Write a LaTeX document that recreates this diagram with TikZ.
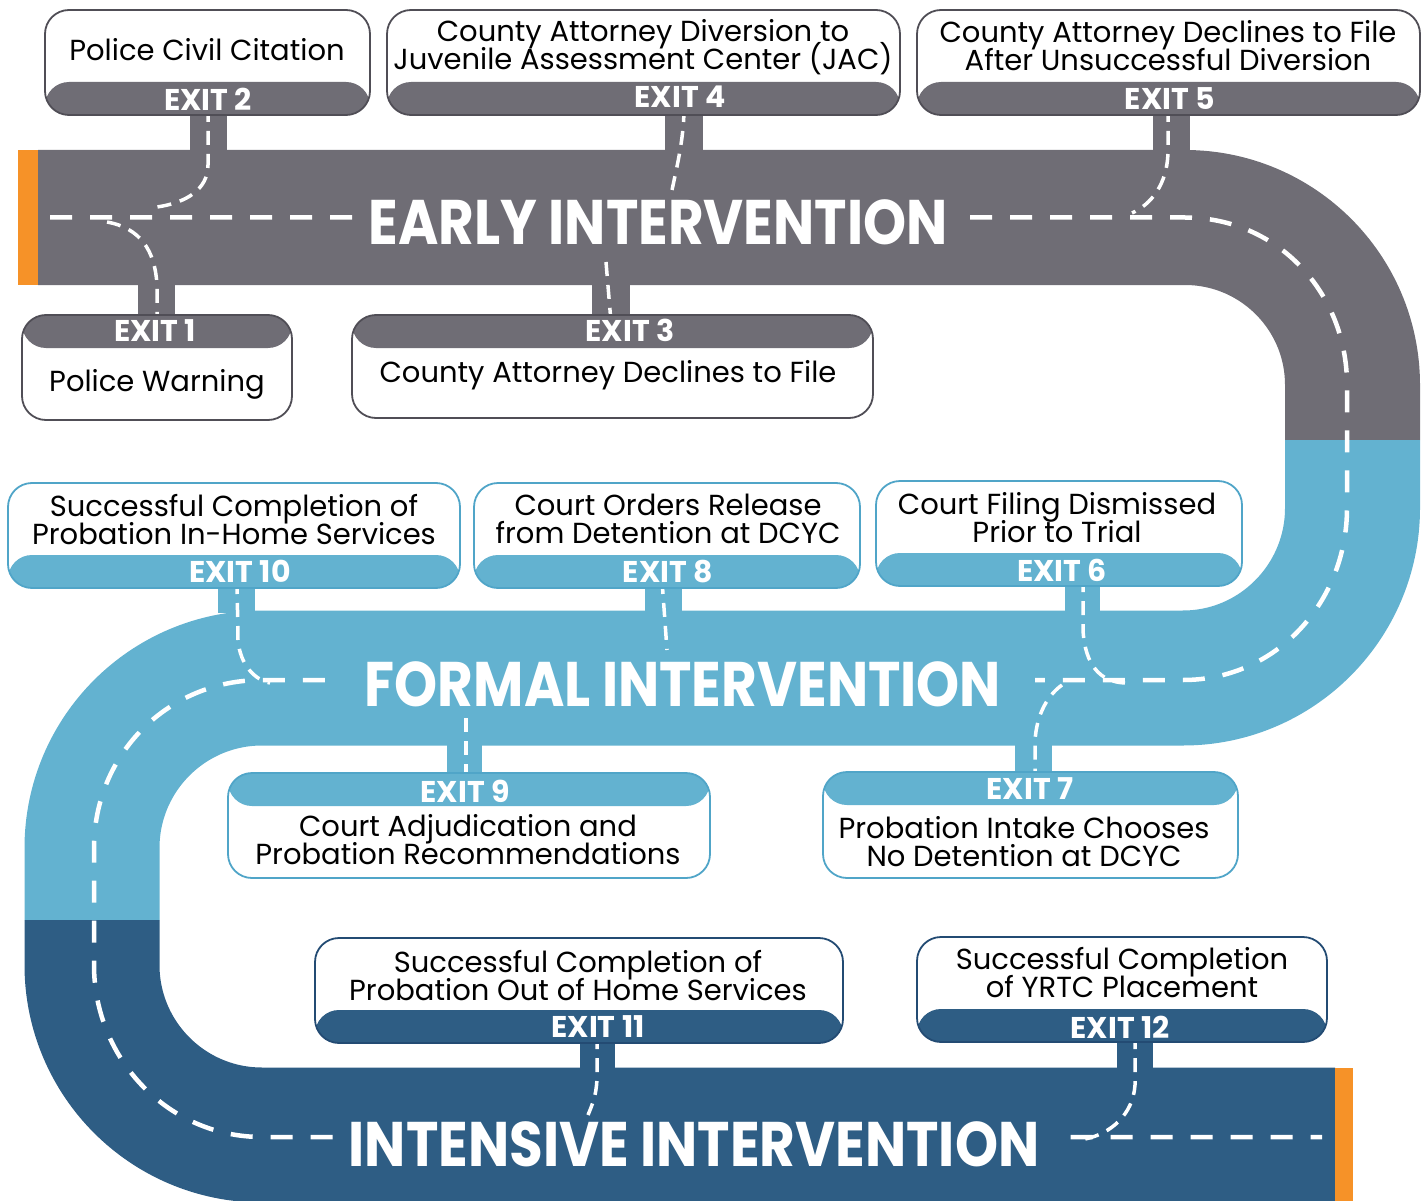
\documentclass[tikz,border=0pt]{standalone}
\usepackage{fontspec}
\setmainfont{Poppins}
\definecolor{roadgray}{RGB}{111,109,117}
\definecolor{roadlight}{RGB}{99,178,208}
\definecolor{roaddark}{RGB}{46,93,132}
\definecolor{roadorange}{RGB}{246,146,40}
\definecolor{edgegray}{RGB}{80,78,86}
\definecolor{edgelight}{RGB}{80,165,200}
\definecolor{edgedark}{RGB}{35,75,115}
\newcommand{\titlecond}[1]{\scalebox{0.87}[1]{#1}}
\newcommand{\tightlines}{\setlength{\lineskiplimit}{-60pt}\setlength{\lineskip}{0pt}}
\tikzset{
  box/.style={draw=#1, line width=1.8pt, rounded corners=24pt, fill=white, inner sep=0pt},
  botstrip/.style={path picture={\fill[#1] (path picture bounding box.south west) rectangle ([yshift=33pt]path picture bounding box.south east);}},
  topstrip/.style={path picture={\fill[#1] (path picture bounding box.north west) rectangle ([yshift=-33pt]path picture bounding box.north east);}},
  boxtext/.style={font={\fontsize{29}{28}\selectfont\tightlines}, align=center, inner sep=0pt, text=black},
  exitlbl/.style={font=\fontsize{30}{30}\selectfont\bfseries, text=white, inner sep=0pt},
  roadtitle/.style={font=\fontsize{63}{63}\selectfont\bfseries, text=white, inner ysep=1pt},
  dashline/.style={white, line width=4.5pt, dash pattern=on 22pt off 18pt},
  exitdash/.style={white, line width=3.5pt, dash pattern=on 14pt off 9pt},
}
\begin{document}
\begin{tikzpicture}[x=1pt, y=-1pt]
\useasboundingbox (0,0) rectangle (1424,1201);
% road
\begin{scope}
\clip (0,0) rectangle (1424,1201);
\draw[roadgray, line width=135pt] (38,217.5) -- (1185,217.5) .. controls (1277.5,217.5) and (1352.5,292.5) .. (1352.5,385) -- (1352.5,440);
\draw[roadlight, line width=135pt] (1352.5,440) -- (1352.5,508) .. controls (1352.5,601.6) and (1276.6,678) .. (1183,678) -- (262,678) .. controls (168.1,678) and (92,754.1) .. (92,848) -- (92,920);
\draw[roaddark, line width=135pt] (92,920) -- (92,965) .. controls (92,1058.9) and (168.1,1135) .. (262,1135) -- (1335,1135);
\fill[roadorange] (18,150) rectangle (38,285);
\fill[roadorange] (1335,1067.5) rectangle (1353,1201);
\end{scope}
% stubs
\fill[roadgray] (190,112) rectangle (227,152);
\fill[roadgray] (665,112) rectangle (703,152);
\fill[roadgray] (1153,112) rectangle (1190,152);
\fill[roadgray] (138,283) rectangle (175,318);
\fill[roadgray] (592,283) rectangle (630,318);
\fill[roadlight] (218,585) rectangle (255,613);
\fill[roadlight] (645,585) rectangle (682,613);
\fill[roadlight] (1065,583) rectangle (1100,613);
\fill[roadlight] (447,743) rectangle (482,776);
\fill[roadlight] (1015,743) rectangle (1052,775);
\fill[roaddark] (580,1040) rectangle (615,1070);
\fill[roaddark] (1117,1039) rectangle (1153,1070);
% main dashed centre line
\draw[dashline] (50,217.5) -- (1185,217.5) .. controls (1277.5,217.5) and (1347,292.5) .. (1347,385) -- (1347,508) .. controls (1347,601.6) and (1276.6,680) .. (1183,680) -- (262,680) .. controls (168.1,680) and (94,754.1) .. (94,848) -- (94,965) .. controls (94,1058.9) and (168.1,1137) .. (262,1137) -- (1322,1137);
% exit dashes
\draw[exitdash] (208,108) -- (208,165) .. controls (208,190) and (185,203) .. (157,207);
\draw[exitdash] (684,108) .. controls (684,140) and (676,170) .. (671,195);
\draw[exitdash] (1168,108) -- (1168,150) .. controls (1168,185) and (1150,205) .. (1132,213);
\draw[exitdash] (107,222) .. controls (140,228) and (155,250) .. (157,285) -- (157,322);
\draw[exitdash] (606,262) -- (611,322);
\draw[exitdash] (237,580) -- (238,640) .. controls (240,665) and (255,680) .. (270,683);
\draw[exitdash] (662,580) -- (667,650);
\draw[exitdash] (1083,578) -- (1083,630) .. controls (1085,665) and (1100,682) .. (1125,683);
\draw[exitdash] (466,718) -- (466,780);
\draw[exitdash] (1062,685) .. controls (1045,697) and (1035,720) .. (1035,745) -- (1035,780);
\draw[exitdash] (597,1035) -- (597,1075) .. controls (597,1095) and (592,1105) .. (588,1115);
\draw[exitdash] (1135,1035) -- (1135,1085) .. controls (1133,1115) and (1110,1134) .. (1085,1139);
% boxes
\node[box=edgegray, botstrip=roadgray, minimum width=325pt, minimum height=105pt] (b2) at (207.5,62.5) {};
\node[box=edgegray, botstrip=roadgray, minimum width=513pt, minimum height=105pt] (b4) at (643.5,62.5) {};
\node[box=edgegray, botstrip=roadgray, minimum width=503pt, minimum height=105pt] (b5) at (1168.5,62.5) {};
\node[box=edgegray, topstrip=roadgray, minimum width=270pt, minimum height=105pt] (b1) at (157,367.5) {};
\node[box=edgegray, topstrip=roadgray, minimum width=521pt, minimum height=103pt] (b3) at (612.5,366.5) {};
\node[box=edgelight, botstrip=roadlight, minimum width=452pt, minimum height=105pt] (b10) at (234,535.5) {};
\node[box=edgelight, botstrip=roadlight, minimum width=386pt, minimum height=105pt] (b8) at (667,535.5) {};
\node[box=edgelight, botstrip=roadlight, minimum width=366pt, minimum height=105pt] (b6) at (1059,533.5) {};
\node[box=edgelight, topstrip=roadlight, minimum width=482pt, minimum height=105pt] (b9) at (469,825.5) {};
\node[box=edgelight, topstrip=roadlight, minimum width=415pt, minimum height=106pt] (b7) at (1030.5,825) {};
\node[box=edgedark, botstrip=roaddark, minimum width=528pt, minimum height=105pt] (b11) at (579,990.5) {};
\node[box=edgedark, botstrip=roaddark, minimum width=410pt, minimum height=105pt] (b12) at (1122,989.5) {};
% box texts
\node[boxtext] (t2) at (207,50) {Police Civil Citation};
\node[boxtext] (t4) at (643,47) {County Attorney Diversion to\\Juvenile Assessment Center (JAC)};
\node[boxtext] (t5) at (1168,46) {County Attorney Declines to File\\After Unsuccessful Diversion};
\node[boxtext] (t1) at (157,384) {Police Warning};
\node[boxtext] (t3) at (608,375) {County Attorney Declines to File};
\node[boxtext] (t10) at (234,520) {Successful Completion of\\Probation In-Home Services};
\node[boxtext] (t8) at (668,519) {Court Orders Release\\from Detention at DCYC};
\node[boxtext] (t6) at (1057,518) {Court Filing Dismissed\\Prior to Trial};
\node[boxtext] (t9) at (468,840) {Court Adjudication and\\Probation Recommendations};
\node[boxtext] (t7) at (1024,842) {Probation Intake Chooses\\No Detention at DCYC};
\node[boxtext] (t11) at (578,976) {Successful Completion of\\Probation Out of Home Services};
\node[boxtext] (t12) at (1122,973) {Successful Completion\\of YRTC Placement};
% exit labels
\node[exitlbl] (e2) at (208,99) {EXIT 2};
\node[exitlbl] (e4) at (680,97) {EXIT 4};
\node[exitlbl] (e5) at (1170,99) {EXIT 5};
\node[exitlbl] (e1) at (155,331) {EXIT 1};
\node[exitlbl] (e3) at (630,330) {EXIT 3};
\node[exitlbl] (e10) at (240,571) {EXIT 10};
\node[exitlbl] (e8) at (668,572) {EXIT 8};
\node[exitlbl] (e6) at (1062,570) {EXIT 6};
\node[exitlbl] (e9) at (465,791) {EXIT 9};
\node[exitlbl] (e7) at (1030,789) {EXIT 7};
\node[exitlbl] (e11) at (598,1027) {EXIT 11};
\node[exitlbl] (e12) at (1120,1027) {EXIT 12};
% titles
\node[roadtitle, fill=roadgray, inner xsep=6pt] (early) at (658,222.5) {\titlecond{EARLY INTERVENTION}};
\node[roadtitle, fill=roadlight, inner xsep=34pt] (formal) at (683,684.5) {\titlecond{FORMAL INTERVENTION}};
\node[roadtitle, fill=roaddark, inner xsep=16pt] (intensive) at (694,1144.5) {\titlecond{INTENSIVE INTERVENTION}};
\end{tikzpicture}
\end{document}
